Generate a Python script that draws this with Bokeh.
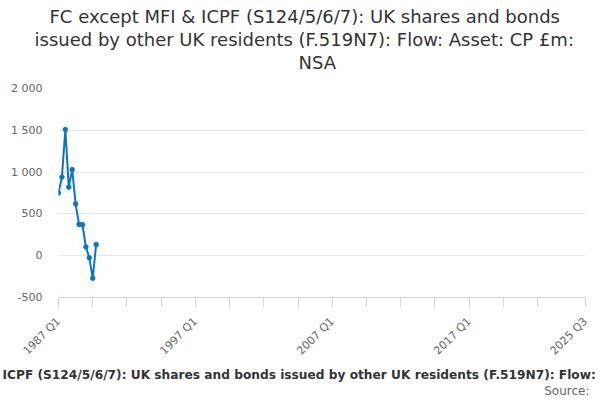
from bokeh.plotting import figure
from bokeh.models import FixedTicker, Range1d, Title
from bokeh.embed import file_html
from bokeh.resources import INLINE
import math

# ---- data ----
quarters = ["1987 Q1", "1987 Q2", "1987 Q3", "1987 Q4",
            "1988 Q1", "1988 Q2", "1988 Q3", "1988 Q4",
            "1989 Q1", "1989 Q2", "1989 Q3", "1989 Q4"]
values = [750, 940, 1510, 820, 1030, 620, 375, 370, 105, -25, -270, 135]

title_lines = ["FC except MFI & ICPF (S124/5/6/7): UK shares and bonds",
               "issued by other UK residents (F.519N7): Flow: Asset: CP £m:",
               "NSA"]
bottom_text = ("FC except MFI & ICPF (S124/5/6/7): UK shares and bonds issued by "
               "other UK residents (F.519N7): Flow: Asset: CP £m: NSA")
source_text = "Source:"

y_ticks = [-500, 0, 500, 1000, 1500, 2000]
y_tick_labels = ["-500", "0", "500", "1 000", "1 500", "2 000"]
x_label_ticks = {1987.0: "1987 Q1", 1997.0: "1997 Q1", 2007.0: "2007 Q1",
                 2017.0: "2017 Q1", 2025.5: "2025 Q3"}
x_first, x_last = 1987.0, 2025.5


def qpos(q):
    y, qq = q.split(" Q")
    return int(y) + (int(qq) - 1) / 4.0


xs = [qpos(q) for q in quarters]

FONT = "DejaVu Sans"

p = figure(width=600, height=400, output_backend="svg", toolbar_location=None,
           x_range=Range1d(x_first, x_last), y_range=Range1d(-500, 2000),
           min_border_left=58, min_border_right=15, min_border_top=88,
           min_border_bottom=103)
p.title.visible = False
p.outline_line_color = None
p.background_fill_color = "white"
p.border_fill_color = "white"

# x axis
x_ticks = [x_first + 2.5 * k for k in range(15)] + [x_last]
p.xaxis.ticker = FixedTicker(ticks=x_ticks)
p.xaxis.major_label_overrides = {t: x_label_ticks.get(t, "") for t in x_ticks}
p.xaxis.major_label_orientation = math.pi / 4
p.xaxis.axis_line_color = "#ccd6eb"
p.xaxis.major_tick_line_color = "#ccd6eb"
p.xaxis.major_tick_out = 10
p.xaxis.major_tick_in = 0
p.xaxis.minor_tick_line_color = None
p.xaxis.major_label_text_font = FONT
p.xaxis.major_label_text_font_size = "11px"
p.xaxis.major_label_text_color = "#666666"
p.xaxis.major_label_standoff = 12

# y axis
p.yaxis.ticker = FixedTicker(ticks=y_ticks)
p.yaxis.major_label_overrides = dict(zip(y_ticks, y_tick_labels))
p.yaxis.axis_line_color = None
p.yaxis.major_tick_line_color = None
p.yaxis.minor_tick_line_color = None
p.yaxis.major_tick_out = 0
p.yaxis.major_tick_in = 0
p.yaxis.major_label_standoff = 16
p.yaxis.major_label_text_font = FONT
p.yaxis.major_label_text_font_size = "11px"
p.yaxis.major_label_text_color = "#666666"

p.xgrid.grid_line_color = None
p.ygrid.grid_line_color = "#e6e6e6"
p.ygrid.ticker = FixedTicker(ticks=y_ticks)

# series
color = "#0b75c0"
p.line(xs, values, line_color=color, line_width=2)
p.scatter(xs, values, size=4.5, fill_color=color, line_color=color)

# spacer between frame and title block
p.add_layout(Title(text=" ", text_font_size="1px", standoff=13), "above")
# titles above (nearest to frame first); left aligned with offsets from frame left
for txt, off in zip(reversed(title_lines), [240, -24, -9]):
    p.add_layout(Title(text=txt, align="left", offset=off, standoff=0,
                       text_font=FONT, text_font_size="18px",
                       text_font_style="normal", text_color="#333333"), "above")

p.add_layout(Title(text=bottom_text, align="left", offset=-172, standoff=0,
                   text_font=FONT, text_font_size="12.2px", text_font_style="bold",
                   text_color="#333333"), "below")
p.add_layout(Title(text=source_text, align="right", offset=-4, standoff=0,
                   text_font=FONT, text_font_size="12px", text_font_style="normal",
                   text_color="#666666"), "below")

open("out.html", "w").write(file_html(p, INLINE))
